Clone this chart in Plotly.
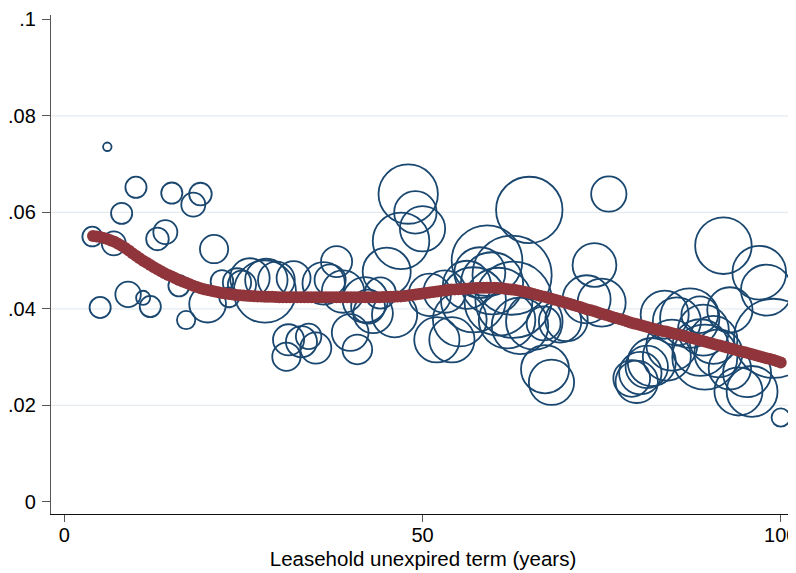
import plotly.graph_objects as go

# ---- Data: bubbles (term in years, yield, weight) ----
bub_x = [6.0, 10.0, 15.0, 19.0, 18.0, 8.0, 14.1, 13.0, 3.9, 6.9, 20.9, 8.9, 11.0, 12.0, 5.0,
         17.0, 16.0, 20.0, 22.0, 23.0, 24.1, 24.8, 25.9, 28.0, 28.2, 29.6, 32.0,
         48.0, 49.0, 50.0, 47.0, 45.0, 38.0, 36.2, 37.1, 38.9, 42.0, 43.1, 46.1, 44.1, 42.4,
         39.9, 40.9, 31.3, 31.0, 33.1, 34.1, 35.1, 51.0, 53.1, 52.0, 54.1, 55.2, 56.2, 57.1,
         59.0, 58.0, 59.7, 62.5, 60.6, 62.7, 64.9, 65.6,
         76.0, 74.0, 72.9, 75.0, 69.2, 70.1, 66.9, 63.6, 61.8, 67.1, 68.0, 92.0, 97.0, 98.0,
         92.9, 99.0, 100.0, 83.8, 85.5, 87.3, 88.7, 90.6, 84.8, 88.8, 89.4, 84.1, 82.0, 81.3,
         80.4, 79.2, 79.9, 95.3, 94.1, 96.0, 92.9, 91.3, 89.2]
bub_y = [.0736, .0652, .0640, .0638, .0616, .0598, .0559, .0545, .0550, .0536, .0524, .0430, .0423, .0405, .0403,
         .0377, .0448, .0410, .0457, .0424, .0455, .0450, .0464, .0436, .0460, .0460, .0464,
         .0638, .0600, .0566, .0541, .0477, .0498, .0453, .0460, .0436, .0419, .0391, .0388, .0433, .0405,
         .0351, .0316, .0336, .0301, .0332, .0343, .0319, .0429, .0436, .0336, .0336, .0378, .0450, .0419,
         .0500, .0475, .0453, .0470, .0415, .0419, .0605, .0374,
         .0638, .0491, .0420, .0413, .0374, .0377, .0370, .0365, .0377, .0275, .0248, .0531, .0475, .0439,
         .0398, .0339, .0175, .0388, .0374, .0381, .0388, .0336, .0325, .0320, .0300, .0301, .0290, .0280,
         .0267, .0256, .0249, .0267, .0229, .0229, .0277, .0308, .0356]
bub_w = [9, 56, 56, 64, 72, 56, 72, 64, 49, 72, 100, 81, 25, 56, 56,
         42, 56, 169, 64, 49, 100, 100, 196, 484, 225, 169, 144,
         441, 225, 256, 400, 289, 121, 225, 121, 225, 256, 196, 256, 121, 144,
         169, 110, 121, 100, 121, 81, 121, 225, 225, 256, 256, 361, 289, 529,
         625, 324, 484, 784, 576, 729, 552, 400,
         156, 240, 289, 289, 225, 225, 144, 400, 400, 289, 256, 400, 361, 324,
         256, 784, 42, 289, 289, 441, 169, 289, 324, 400, 529, 289, 289, 225,
         225, 169, 225, 289, 289, 324, 225, 289, 324]

# ---- Data: smoothed fit (term in years, fitted yield) ----
fit_x = [4, 4.5, 5, 5.5, 6, 6.5, 7, 7.5, 8, 8.5, 9, 9.5, 10, 10.5, 11, 11.5, 12, 12.5, 13, 13.5,
         14, 14.5, 15, 15.5, 16, 16.5, 17, 17.5, 18, 18.5, 19, 19.5, 20, 20.5, 21, 21.5, 22, 22.5,
         23, 23.5, 24, 24.5, 25, 25.5, 26, 26.5, 27, 27.5, 28, 28.5, 29, 29.5, 30, 30.5, 31, 31.5,
         32, 32.5, 33, 33.5, 34, 34.5, 35, 35.5, 36, 36.5, 37, 37.5, 38, 38.5, 39, 39.5, 40, 40.5,
         41, 41.5, 42, 42.5, 43, 43.5, 44, 44.5, 45, 45.5, 46, 46.5, 47, 47.5, 48, 48.5, 49, 49.5,
         50, 50.5, 51, 51.5, 52, 52.5, 53, 53.5, 54, 54.5, 55, 55.5, 56, 56.5, 57, 57.5, 58, 58.5,
         59, 59.5, 60, 60.5, 61, 61.5, 62, 62.5, 63, 63.5, 64, 64.5, 65, 65.5, 66, 66.5, 67, 67.5,
         68, 68.5, 69, 69.5, 70, 70.5, 71, 71.5, 72, 72.5, 73, 73.5, 74, 74.5, 75, 75.5, 76, 76.5,
         77, 77.5, 78, 78.5, 79, 79.5, 80, 80.5, 81, 81.5, 82, 82.5, 83, 83.5, 84, 84.5, 85, 85.5,
         86, 86.5, 87, 87.5, 88, 88.5, 89, 89.5, 90, 90.5, 91, 91.5, 92, 92.5, 93, 93.5, 94, 94.5,
         95, 95.5, 96, 96.5, 97, 97.5, 98, 98.5, 99, 99.5, 100]
fit_y = [.0551, .0550, .0549, .0547, .0545, .0542, .0539, .0535, .0531, .0526, .0521, .05155, .0510,
         .0505, .0500, .04955, .0491, .04865, .0482, .0478, .0474, .04705, .0467, .04635, .0460,
         .0457, .0454, .0451, .0448, .04455, .0443, .0441, .0439, .04375, .0436, .04345, .0433,
         .0432, .0431, .0430, .0429, .04285, .0428, .04275, .0427, .04265, .0426, .04255, .0425,
         .0425, .0425, .04245, .0424, .0424, .0424, .0424, .0424, .0424, .0424, .0424, .0424,
         .0424, .0424, .0424, .0424, .0424, .0424, .0424, .0424, .0424, .0424, .0424, .0424,
         .0424, .0424, .0424, .0424, .0424, .0424, .0424, .0424, .04245, .0425, .0425, .0425,
         .04255, .0426, .0427, .0428, .0429, .0430, .0431, .0432, .0433, .0434, .0435, .0436,
         .0437, .0438, .0439, .0440, .04405, .0441, .04415, .0442, .04425, .0443, .04435, .0444,
         .0444, .0444, .0444, .0444, .04435, .0443, .0442, .0441, .0440, .0439, .04375, .0436,
         .04345, .0433, .0431, .0429, .0427, .0425, .0423, .0421, .0419, .0417, .0415, .0413,
         .04105, .0408, .0406, .0404, .04015, .0399, .0397, .0395, .03925, .0390, .0388, .0386,
         .03835, .0381, .0379, .0377, .03745, .0372, .0370, .0368, .0366, .0364, .0362, .0360,
         .0358, .0356, .03545, .0353, .0351, .0349, .03475, .0346, .0344, .0342, .0340, .0338,
         .0336, .0334, .0332, .0330, .0328, .0326, .0324, .0322, .0320, .0318, .0316, .0314,
         .0312, .0310, .0308, .0306, .0304, .0302, .0300, .0298, .0296, .0294, .02915, .0289]

# ---- Ticks ----
x_tickvals = [0, 50, 100]
x_ticktext = ["0", "50", "100"]
y_tickvals = [0, 0.02, 0.04, 0.06, 0.08, 0.1]
y_ticktext = ["0", ".02", ".04", ".06", ".08", ".1"]
x_title = "Leasehold unexpired term (years)"

NAVY = "#1a476f"
MAROON = "#90353b"
FONT = "Liberation Sans, Arial, sans-serif"

fig = go.Figure()
fig.add_trace(go.Scatter(
    x=bub_x, y=bub_y, mode="markers",
    marker=dict(size=bub_w, sizemode="area", sizeref=0.25, symbol="circle-open",
                opacity=1, color=NAVY, line=dict(width=1.8, color=NAVY)),
    cliponaxis=False, hoverinfo="skip", showlegend=False))
fig.add_trace(go.Scatter(
    x=fit_x, y=fit_y, mode="markers",
    marker=dict(size=12, color=MAROON, opacity=1, line=dict(width=0)),
    cliponaxis=False, hoverinfo="skip", showlegend=False))

# interior horizontal gridlines
for v in y_tickvals[1:-1]:
    fig.add_shape(type="line", xref="paper", yref="y", x0=0, x1=1, y0=v, y1=v,
                  line=dict(color="#e3ebef", width=1.3), layer="below")

# the page body has an 8px margin, so the margins are offset by 8px
fig.update_layout(
    width=796, height=573,
    margin=dict(l=43, r=9, t=7, b=67),
    paper_bgcolor="white", plot_bgcolor="white",
    font=dict(family=FONT, size=20, color="black"),
    xaxis=dict(range=[-1.86, 101.99], tickvals=x_tickvals, ticktext=x_ticktext,
               automargin=False, ticklabeloverflow="allow",
               showgrid=False, zeroline=False, showline=True, linecolor="#111", linewidth=1.3,
               ticks="outside", ticklen=7, tickwidth=1.3, tickcolor="#555",
               ticklabelstandoff=-4,
               title=dict(text=x_title, standoff=6, font=dict(size=20.5))),
    yaxis=dict(range=[-0.00249, 0.1009], tickvals=y_tickvals, ticktext=y_ticktext,
               automargin=False, ticklabeloverflow="allow",
               showgrid=False, zeroline=False, showline=True, linecolor="#555", linewidth=1.3,
               ticks="outside", ticklen=8, tickwidth=1.3, tickcolor="#555",
               ticklabelstandoff=2),
)

fig.write_html("out.html")
